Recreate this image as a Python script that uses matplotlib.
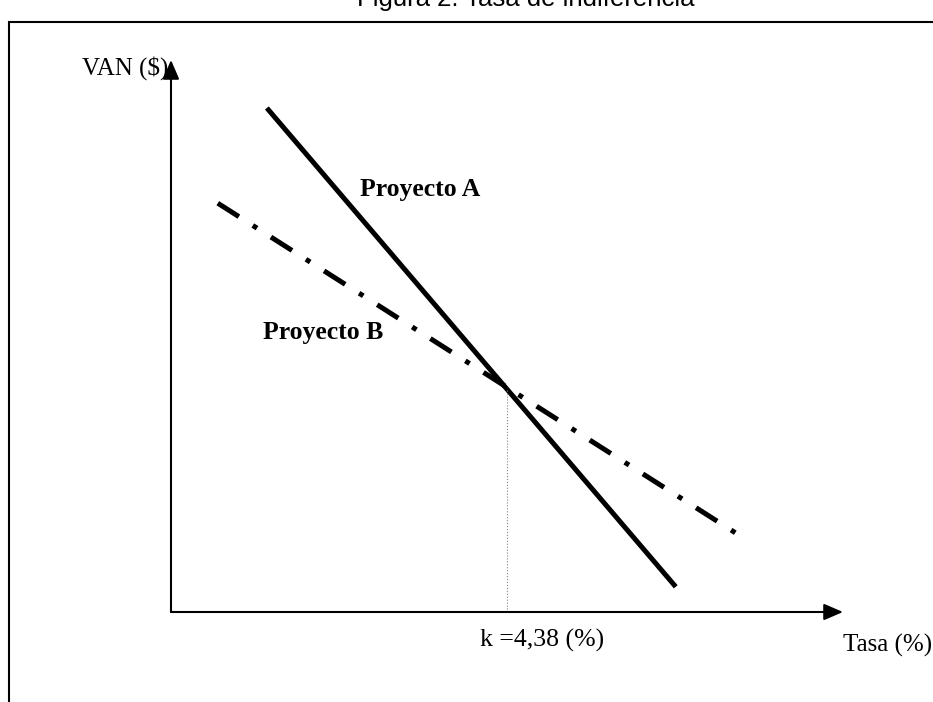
import matplotlib
matplotlib.use("Agg")
import matplotlib.pyplot as plt
from matplotlib.patches import Rectangle

# Datos (tasa en %, VAN en unidades arbitrarias)
tasa_a = [1.25, 6.58]
van_a = [9.0, 0.45]
tasa_b = [0.61, 7.42]
van_b = [7.30, 1.36]
k = 4.38
van_k = 4.0

titulo = "Figura 2. Tasa de indiferencia"
label_a = "Proyecto A"
label_b = "Proyecto B"

W, H = 933, 702
fig = plt.figure(figsize=(W / 100, H / 100), dpi=100)
ax = fig.add_axes([0, 0, 1, 1])

# escala: origen en pixel (171, 612), 76.71 px por %, 56 px por unidad de VAN
px_x = 76.71
px_y = 56.0
ox, oy = 171, 612
ax.set_xlim(-ox / px_x, (W - ox) / px_x)
ax.set_ylim(-(H - oy) / px_y, oy / px_y)
ax.axis("off")

# marco
fig.patches.append(Rectangle((9 / W, -0.1), 1.2, (H - 22) / H + 0.1, transform=fig.transFigure,
                             fill=False, edgecolor="black", lw=1.5))

# titulo (cortado arriba como en la imagen original)
fig.text(0.563, (H + 1) / H, titulo, ha="center", va="center", fontsize=18.5,
         family="Liberation Sans", color="black")

# ejes con flecha
arrow = dict(arrowstyle="-|>,head_length=0.58,head_width=0.25", lw=1.5, color="black",
             mutation_scale=20, shrinkA=0, shrinkB=0)
ax.annotate("", xy=(0, (oy - 60) / px_y), xytext=(0, 0), arrowprops=arrow)
ax.annotate("", xy=((843 - ox) / px_x, 0), xytext=(0, 0), arrowprops=arrow)

# lineas
ax.plot(tasa_a, van_a, color="black", lw=3.6, solid_capstyle="butt")
ax.plot(tasa_b, van_b, color="black", lw=3.6, linestyle=(0, (5, 3.3, 1, 3.3)),
        dash_capstyle="butt")
ax.plot([k, k], [0, van_k], color="gray", lw=0.8, linestyle=":")

serif = "Liberation Serif"
ax.text(-0.04, 9.71, "VAN ($)", ha="right", va="center", fontsize=18, family=serif)
ax.text(8.76, -0.59, "Tasa (%)", ha="left", va="center", fontsize=18, family=serif)
ax.text(4.84, -0.5, "k =" + f"{k:.2f}".replace(".", ",") + " (%)", ha="center", va="center",
        fontsize=18.5, family=serif)
ax.text(2.46, 7.54, label_a, ha="left", va="center", fontsize=18.5, family=serif,
        fontweight="bold")
ax.text(1.20, 5.00, label_b, ha="left", va="center", fontsize=18.5, family=serif,
        fontweight="bold")

fig.savefig("out.png", dpi=100)
